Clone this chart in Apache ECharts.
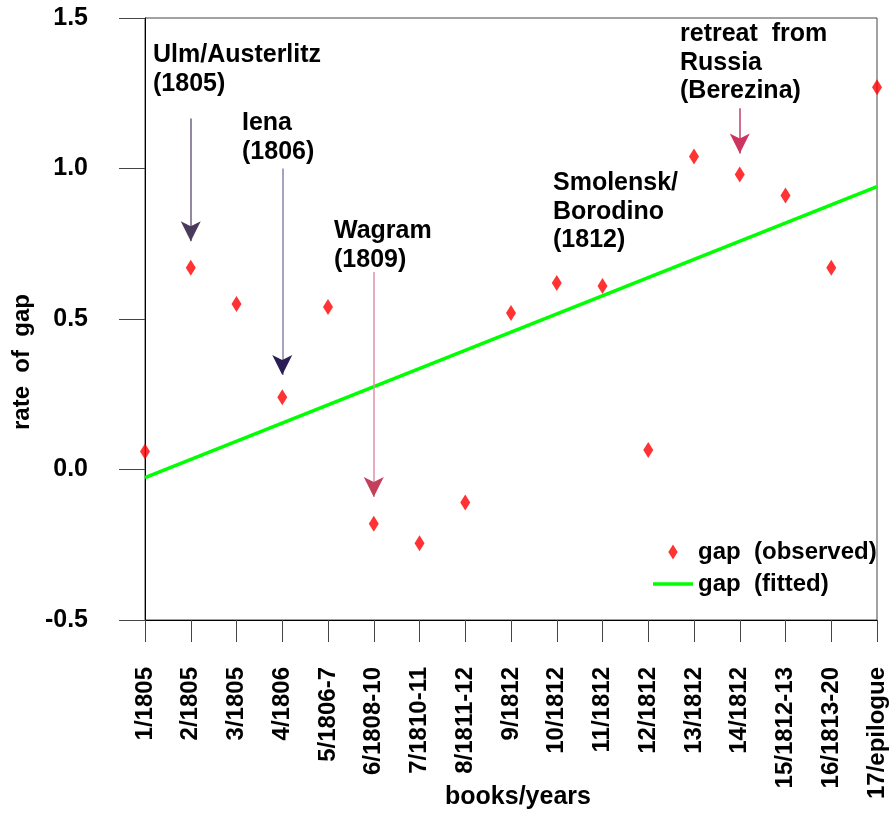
<!DOCTYPE html>
<html>
<head>
<meta charset="utf-8">
<script src="https://cdn.jsdelivr.net/npm/echarts@6/dist/echarts.min.js"></script>
<style>
  html, body { margin: 0; padding: 0; background: #fff; }
  #chart { width: 895px; height: 815px; }
</style>
</head>
<body>
<div id="chart"></div>
<script>
// books of War and Peace
const books = ['1/1805', '2/1805', '3/1805', '4/1806', '5/1806-7', '6/1808-10', '7/1810-11',
  '8/1811-12', '9/1812', '10/1812', '11/1812', '12/1812', '13/1812', '14/1812',
  '15/1812-13', '16/1813-20', '17/epilogue'];
// observed gap rate, one per book
const observed = [0.06, 0.67, 0.55, 0.24, 0.54, -0.18, -0.245, -0.11, 0.52, 0.62, 0.61,
  0.065, 1.04, 0.98, 0.91, 0.67, 1.27];
// fitted line, first and last book
const fitted = [[0, -0.027], [16, 0.94]];
const yTicks = [-0.5, 0.0, 0.5, 1.0, 1.5];

// battle arrows: book index, start value, tip value
const arrowIdx = [1, 3, 5, 13];
const arrowFrom = [1.166, 1.0, 0.656, 1.20];
const arrowTo = [0.758, 0.314, -0.091, 1.05];
const shaftColor = ['#6e6080', '#8d82aa', '#e290a8', '#c0406a'];
const headColor = ['#4a3b5c', '#2a1e55', '#c2405c', '#cc3560'];

const FONT = 'Liberation Sans';
const OBS = 'gap  (observed)';
const FIT = 'gap  (fitted)';

let chart = echarts.init(document.getElementById('chart'));

const shafts = arrowIdx.map((c, i) => [
  { coord: [c, arrowFrom[i]], lineStyle: { color: shaftColor[i], width: 1.5, type: 'solid' } },
  { coord: [c, arrowTo[i]] }
]);
const heads = arrowIdx.map((c, i) => ({
  coord: [c, arrowTo[i]],
  itemStyle: { color: headColor[i] }
}));

// annotation text blocks
const notes = [
  { text: 'Ulm/Austerlitz\n(1805)', x: 153, y: 41 },
  { text: 'Iena\n(1806)', x: 242, y: 109 },
  { text: 'Wagram\n(1809)', x: 334, y: 217 },
  { text: 'Smolensk/\nBorodino\n(1812)', x: 553, y: 169 },
  { text: 'retreat  from\nRussia\n(Berezina)', x: 680, y: 20 }
];

chart.setOption({
  animation: false,
  grid: {
    left: 145, right: 18, top: 18, bottom: 195,
    show: true, borderColor: '#444', borderWidth: 1
  },
  legend: {
    orient: 'vertical',
    left: 653, top: 540,
    padding: 0,
    itemWidth: 40, itemHeight: 15, itemGap: 8,
    symbolKeepAspect: true,
    textStyle: { fontFamily: FONT, fontWeight: 'bold', fontSize: 24, color: '#000' },
    data: [
      { name: OBS, icon: 'path://M5,0 L10,8 L5,16 L0,8 Z' },
      { name: FIT, icon: 'path://M0,0 L40,0 L40,3.5 L0,3.5 Z' }
    ]
  },
  xAxis: {
    type: 'category',
    data: books,
    boundaryGap: false,
    axisLine: { onZero: false, lineStyle: { color: '#000', width: 1 } },
    axisTick: { length: 22, lineStyle: { color: '#444' }, interval: 0 },
    axisLabel: {
      rotate: 90, margin: 47, interval: 0,
      fontFamily: FONT, fontWeight: 'bold', fontSize: 24, color: '#000'
    },
    splitLine: { show: false }
  },
  yAxis: {
    type: 'value',
    min: yTicks[0], max: yTicks[yTicks.length - 1], interval: 0.5,
    axisLine: { show: true, lineStyle: { color: '#000', width: 1 } },
    axisTick: { show: true, length: 26, lineStyle: { color: '#444' } },
    axisLabel: {
      margin: 57,
      formatter: v => v.toFixed(1),
      fontFamily: FONT, fontWeight: 'bold', fontSize: 25, color: '#000'
    },
    splitLine: { show: false }
  },
  series: [
    {
      name: OBS,
      type: 'scatter',
      symbol: 'diamond',
      symbolSize: [10, 16],
      itemStyle: { color: '#ff0000' },
      data: observed,
      z: 5,
      markLine: {
        silent: true,
        symbol: ['none', 'none'],
        label: { show: false },
        data: shafts
      },
      markPoint: {
        silent: true,
        symbol: 'arrow',
        symbolSize: [15, 20],
        symbolRotate: 180,
        symbolOffset: [0, 0],
        label: { show: false },
        data: heads
      }
    },
    {
      name: FIT,
      type: 'line',
      symbol: 'none',
      lineStyle: { color: '#00ff00', width: 3.5 },
      itemStyle: { color: '#00ff00' },
      data: fitted,
      z: 3
    }
  ],
  graphic: [
    {
      type: 'text', x: 22, y: 362, rotation: Math.PI / 2,
      style: {
        text: 'rate  of  gap', align: 'center', verticalAlign: 'middle',
        font: 'bold 24px "' + FONT + '"', fill: '#000'
      }
    },
    {
      type: 'text', x: 518, y: 797,
      style: {
        text: 'books/years', align: 'center', verticalAlign: 'middle',
        font: 'bold 25px "' + FONT + '"', fill: '#000'
      }
    }
  ].concat(notes.map(n => ({
    type: 'text', x: n.x, y: n.y,
    style: {
      text: n.text, align: 'left', verticalAlign: 'top', lineHeight: 28.5,
      font: 'bold 25px "' + FONT + '"', fill: '#000'
    }
  })))
});
</script>
</body>
</html>
